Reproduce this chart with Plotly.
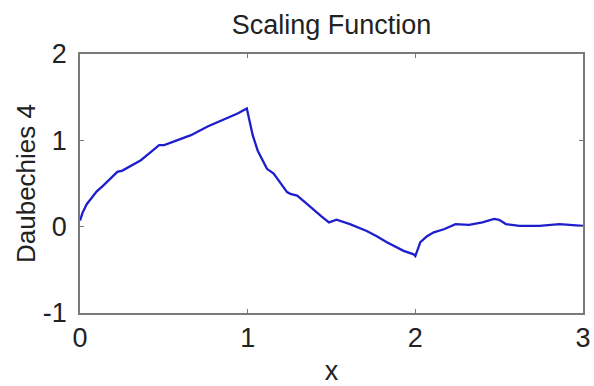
import plotly.graph_objects as go

# Daubechies 4 scaling function, sampled on [0, 3]
x_vals = [0.0, 0.015, 0.04, 0.07, 0.1, 0.135, 0.18, 0.223, 0.253, 0.30, 0.363, 0.42,
          0.472, 0.502, 0.562, 0.662, 0.761, 0.861, 0.94, 0.995,
          1.01, 1.03, 1.06, 1.115, 1.155, 1.20, 1.235, 1.255, 1.295, 1.35, 1.395,
          1.44, 1.485, 1.53, 1.61, 1.71, 1.77, 1.83, 1.93, 1.99,
          2.0, 2.03, 2.07, 2.11, 2.17, 2.24, 2.32, 2.40, 2.47, 2.50, 2.54,
          2.62, 2.74, 2.86, 3.0]
phi_vals = [0.07, 0.16, 0.26, 0.34, 0.41, 0.47, 0.55, 0.635, 0.65, 0.70, 0.77, 0.86,
            0.945, 0.945, 0.985, 1.06, 1.16, 1.24, 1.31, 1.37,
            1.24, 1.06, 0.88, 0.67, 0.615, 0.50, 0.40, 0.38, 0.36, 0.27, 0.19,
            0.12, 0.05, 0.08, 0.03, -0.05, -0.11, -0.18, -0.28, -0.32,
            -0.34, -0.18, -0.11, -0.065, -0.03, 0.03, 0.02, 0.05, 0.09, 0.08, 0.03,
            0.01, 0.01, 0.03, 0.01]

x_ticks = [0, 1, 2, 3]
y_ticks = [-1, 0, 1, 2]
y_tick_text = ["-1", "0", "1", "2"]

font_family = "Liberation Sans, Arial, Helvetica, sans-serif"
axis_gray = "#7a7a7a"
text_color = "#222"

fig = go.Figure()
fig.add_trace(go.Scatter(
    x=x_vals, y=phi_vals, mode="lines",
    line=dict(color="rgb(30,30,205)", width=2.3),
    showlegend=False,
))

axis_common = dict(
    showgrid=False, zeroline=False, automargin=False,
    showline=True, linecolor=axis_gray, linewidth=1.5, mirror="ticks",
    ticks="inside", ticklen=4, tickcolor=axis_gray, tickwidth=1,
    tickfont=dict(family=font_family, size=27, color=text_color),
)

fig.update_layout(
    width=594, height=386,
    margin=dict(l=80, r=11, t=54, b=73),
    paper_bgcolor="white", plot_bgcolor="white",
    title=dict(text="Scaling Function", xref="paper", x=0.5, xanchor="center",
               y=1 - 25 / 386, yanchor="middle",
               font=dict(family=font_family, size=27, color=text_color)),
    xaxis=dict(range=[0, 3], tickvals=x_ticks,
               title=dict(text="x", standoff=12,
                          font=dict(family=font_family, size=27, color=text_color)),
               **axis_common),
    yaxis=dict(range=[-1, 2], tickvals=y_ticks, ticktext=y_tick_text,
               ticklabelstandoff=6,
               title=dict(text="Daubechies 4", standoff=0,
                          font=dict(family=font_family, size=26, color=text_color)),
               **axis_common),
)

fig.write_html("out.html")
